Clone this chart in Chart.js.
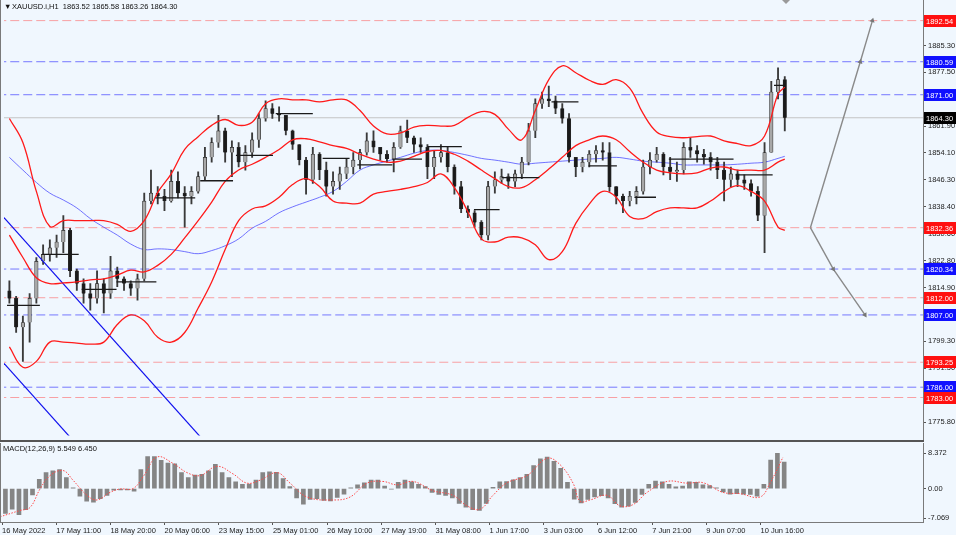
<!DOCTYPE html>
<html>
<head>
<meta charset="utf-8">
<script src="https://cdn.jsdelivr.net/npm/chart.js@4.4.1/dist/chart.umd.min.js"></script>
<style>
  html, body { margin: 0; padding: 0; background: #f0f7fe; }
  #wrap { position: relative; width: 956px; height: 535px; background: #f0f7fe; overflow: hidden; }
  #main { position: absolute; left: 0; top: 0; }
  #macd { position: absolute; left: 0; top: 443px; }
</style>
</head>
<body>
<div id="wrap">
  <canvas id="main" width="956" height="442"></canvas>
  <canvas id="macd" width="956" height="92"></canvas>
</div>
<script>
'use strict';

// ---- price data: 4-hour candles (open = previous close) ----
const firstOpen = 1814.0;
const hi = [1816.9,1812.4,1806.7,1813.2,1823.7,1827.4,1828.8,1830.2,1835.9,1832.2,
  1820.3,1817.5,1816.1,1819.8,1817.5,1824.0,1820.9,1818.1,1816.9,1818.9,
  1842.4,1849.1,1844.3,1843.5,1849.1,1848.6,1844.3,1844.3,1848.6,1855.7,
  1858.5,1865.0,1861.3,1857.6,1857.1,1856.2,1859.9,1865.5,1869.2,1868.4,
  1867.5,1865.0,1860.7,1856.5,1852.8,1855.7,1854.2,1851.4,1848.6,1850.0,
  1852.3,1854.2,1855.1,1859.9,1860.5,1855.7,1854.8,1857.1,1861.9,1863.6,
  1859.0,1858.5,1856.5,1854.8,1856.5,1855.7,1850.6,1845.8,1838.7,1837.3,
  1834.4,1845.8,1848.6,1849.4,1848.0,1849.1,1852.8,1862.7,1869.8,1871.8,
  1873.5,1870.6,1868.4,1865.5,1852.8,1852.8,1854.8,1856.2,1857.1,1857.1,
  1844.3,1842.1,1842.9,1844.3,1852.0,1854.2,1855.7,1854.2,1852.8,1851.4,
  1857.1,1858.5,1856.2,1855.1,1854.2,1852.8,1851.4,1850.0,1849.1,1847.7,
  1846.3,1844.3,1857.1,1874.9,1878.8,1876.3];
const lo = [1810.4,1801.9,1793.5,1799.1,1810.4,1821.7,1822.6,1823.7,1825.1,1818.1,
  1814.1,1810.4,1808.4,1810.4,1807.6,1811.8,1815.2,1814.1,1812.7,1811.3,
  1816.9,1839.3,1839.3,1837.3,1839.8,1841.0,1832.5,1839.3,1842.4,1846.3,
  1851.4,1855.7,1851.4,1847.2,1850.0,1849.1,1852.8,1855.7,1863.3,1864.1,
  1863.3,1859.3,1855.1,1850.6,1842.1,1845.2,1846.3,1841.5,1842.1,1843.5,
  1846.6,1848.0,1849.4,1853.4,1854.2,1852.0,1851.4,1848.6,1855.4,1857.1,
  1854.2,1854.2,1846.6,1846.6,1851.4,1848.6,1842.1,1836.7,1835.3,1832.5,
  1828.8,1828.8,1842.4,1845.2,1843.8,1844.3,1846.6,1850.6,1858.5,1867.0,
  1867.5,1865.5,1862.7,1851.4,1847.2,1848.6,1850.0,1851.4,1852.0,1842.9,
  1839.3,1836.7,1838.7,1839.3,1842.1,1848.0,1851.4,1847.7,1846.3,1845.8,
  1848.0,1852.8,1851.4,1850.8,1849.1,1846.6,1840.1,1844.3,1844.3,1843.5,
  1841.5,1834.4,1825.1,1854.2,1869.8,1860.5];
const cl = [1811.8,1803.4,1804.8,1811.8,1822.6,1824.6,1826.5,1828.2,1831.6,1819.8,
  1816.1,1813.2,1811.8,1816.1,1813.2,1819.8,1817.5,1816.1,1814.7,1817.5,
  1840.1,1842.4,1841.5,1840.1,1845.8,1842.4,1841.5,1842.9,1847.2,1852.8,
  1857.1,1860.5,1854.2,1855.7,1851.4,1854.2,1857.9,1864.1,1867.0,1865.5,
  1865.0,1860.5,1856.5,1852.0,1846.3,1853.7,1849.1,1844.3,1845.8,1848.0,
  1850.0,1852.0,1854.2,1857.6,1855.7,1853.7,1852.3,1855.7,1860.5,1858.5,
  1856.5,1855.7,1850.0,1852.8,1854.2,1850.0,1844.3,1837.8,1836.7,1833.9,
  1830.2,1844.3,1846.3,1847.2,1845.8,1848.0,1851.4,1860.5,1868.4,1869.8,
  1869.2,1867.0,1864.1,1852.8,1850.0,1851.4,1853.7,1854.8,1854.2,1844.3,
  1841.5,1840.1,1841.5,1842.9,1850.0,1852.0,1853.7,1850.0,1848.6,1849.1,
  1855.7,1854.8,1853.7,1852.8,1851.4,1849.1,1846.3,1848.0,1846.3,1845.2,
  1842.9,1835.9,1854.2,1871.8,1875.4,1864.3];

// ---- Bollinger bands and blue MA, read every second candle (last point = last candle) ----
const bbUpper = [1864.1,1857.1,1842.9,1832.7,1834.4,1834.4,1834.4,1834.4,1833.3,1831.3,
  1834.4,1842.6,1848.0,1855.1,1858.8,1862.1,1863.8,1862.1,1863.0,1868.4,
  1869.8,1869.5,1869.5,1868.9,1869.5,1869.5,1866.4,1861.9,1859.6,1859.9,
  1861.6,1862.1,1861.9,1862.1,1864.4,1866.1,1865.3,1861.0,1857.9,1866.4,
  1875.4,1879.4,1877.4,1875.2,1874.0,1875.4,1872.9,1865.5,1860.2,1858.8,
  1858.5,1858.8,1859.0,1857.6,1856.8,1856.2,1859.0,1871.2,1873.2];
const bbMiddle = [1830.2,1823.7,1817.8,1816.1,1816.3,1816.6,1817.2,1817.5,1818.6,1820.0,
  1819.5,1821.4,1824.6,1829.4,1834.4,1839.8,1845.8,1849.1,1850.8,1852.8,
  1855.1,1857.9,1858.2,1857.3,1856.2,1855.4,1853.7,1852.3,1851.4,1851.7,
  1853.1,1854.5,1854.8,1853.7,1851.7,1849.1,1846.6,1844.3,1844.0,1846.3,
  1849.4,1852.8,1856.2,1857.9,1859.0,1857.9,1854.5,1851.4,1849.1,1848.3,
  1848.0,1848.3,1849.7,1850.0,1849.1,1849.1,1849.1,1851.4,1852.3];
const bbLower = [1797.7,1791.8,1793.5,1799.1,1799.1,1798.8,1798.5,1799.1,1804.2,1807.0,
  1805.3,1800.5,1799.1,1801.9,1809.0,1816.6,1826.0,1834.4,1837.8,1838.7,
  1841.2,1844.9,1846.6,1844.3,1840.1,1839.5,1839.5,1842.1,1842.9,1843.5,
  1844.3,1845.5,1848.0,1844.0,1837.0,1829.1,1828.2,1829.6,1829.4,1827.4,
  1823.1,1825.4,1833.6,1839.2,1842.9,1841.2,1835.6,1835.0,1837.0,1838.1,
  1838.1,1838.1,1840.1,1842.9,1844.6,1842.9,1840.1,1832.5,1831.6];
const maBlue = [1852.8,1849.1,1845.5,1842.4,1840.4,1838.1,1835.0,1832.5,1830.2,1827.6,
  1826.0,1826.2,1826.0,1825.4,1824.8,1825.7,1827.1,1829.1,1832.2,1834.2,
  1836.7,1838.4,1839.8,1841.2,1842.9,1845.8,1849.1,1850.6,1851.7,1852.8,
  1854.0,1854.8,1854.8,1854.2,1853.4,1852.5,1852.0,1851.4,1850.8,1851.1,
  1851.4,1851.7,1852.0,1852.3,1852.5,1852.8,1852.3,1851.7,1851.4,1851.1,
  1850.6,1850.6,1850.6,1850.6,1850.8,1851.1,1851.4,1852.5,1853.1];

// ---- short black level segments (candle units) ----
const segFrom  = [0.15,5.32,11.22,16.39,22.15,28.8,34.1,40.0,46.96,52.1,57.3,62.5,69.4,73.5,80.9,86.4,93.2,98.3,108.2,113.9];
const segTo    = [5.02,10.78,16.39,22.3,28.06,33.67,39.6,45.5,50.95,57.3,61.7,67.6,73.2,79.1,84.9,90.6,96.4,107.9,113.7,115.5];
const segLevel = [1809.8,1824.6,1814.4,1816.6,1841.0,1846.0,1853.4,1865.5,1852.5,1850.6,1852.3,1855.9,1837.6,1846.9,1868.9,1850.3,1841.2,1852.3,1847.7,1873.7];

// ---- horizontal levels ----
const levels     = [1892.54,1880.59,1871.00,1832.36,1820.34,1812.00,1807.00,1793.25,1786.00,1783.00];
const levelKinds = ['r','b','b','r','b','r','b','r','b','r'];
const lastPrice  = 1864.30;

// ---- blue trend channel and projected arrows ----
const trendX = [[-0.3, 40], [-0.3, 14.47]];
const trendY = [[1835.3, 1747.1], [1792.9, 1760.6]];
const upArrowX = [119.3, 126.7, 128.5];
const upArrowY = [1832.36, 1880.59, 1892.54];
const dnArrowX = [119.3, 122.7, 127.4];
const dnArrowY = [1832.36, 1820.34, 1807.00];

// ---- MACD(12,26,9) ----
const macdHist = [-5.9,-4.9,-6.2,-5.0,-1.5,2.2,3.8,4.2,4.5,2.6,
  0.2,-1.8,-3.0,-3.2,-2.4,-1.6,-0.4,-0.3,-0.3,-0.6,
  4.5,7.6,7.6,6.7,6.1,5.9,3.8,2.6,3.2,3.4,
  4.2,5.8,3.8,2.6,1.6,1.0,1.1,2.0,3.8,4.0,
  3.9,2.4,0.5,-2.2,-3.7,-2.6,-2.4,-2.8,-2.9,-2.1,
  -1.3,0.2,0.9,1.4,2.0,2.0,0.6,-0.1,1.5,2.0,
  1.6,1.0,0.5,-0.9,-1.4,-1.6,-2.2,-3.5,-4.4,-5.0,
  -5.2,-3.5,0.3,1.6,1.7,2.1,2.6,3.4,5.5,7.1,
  7.5,6.5,4.8,1.5,-2.5,-3.4,-2.6,-2.0,-1.7,-2.2,
  -3.6,-4.4,-4.2,-3.3,-1.4,1.0,1.8,1.6,1.0,0.4,
  0.6,1.6,1.5,0.9,0.7,0.2,-0.8,-1.3,-1.2,-1.3,
  -1.4,-1.8,1.0,6.8,8.37,6.3];
const signalX = [-0.3,2.66,4.13,5.61,7.09,9.01,10.48,12.55,14.03,15.95,17.42,19.34,20.82,22.89,25.25,27.32,29.24,31.75,34.11,36.18,
  38.1,40.61,42.53,45.04,48.88,51.39,53.9,56.26,58.33,60.69,63.65,66.6,68.67,70.59,72.5,74.57,77.53,80.48,82.4,84.32,
  85.35,86.83,89.34,91.26,93.18,95.25,98.2,101.15,103.52,106.47,108.98,111.93,113.41,115.33];
const signalY = [-6.7,-5.2,-4.5,-0.1,3.1,4.3,2.0,-1.6,-2.7,-0.9,-0.1,0,2.8,7.5,6.0,3.8,3.1,5.3,3.5,1.3,
  2.0,3.8,1.3,-2.0,-2.7,-2.0,1.3,1.7,0.9,1.7,-0.5,-1.6,-4.1,-4.9,-1.6,1.4,3.1,7.2,5.7,1.3,
  -3.0,-2.7,-1.6,-4.1,-3.8,-0.9,1.7,1.3,1.4,-0.9,-1.2,-2.0,1.3,7.5];

// ---- axis labels ----
const priceTicks = [1775.80,1783.70,1791.50,1799.30,1807.10,1814.90,1822.80,1830.60,1838.40,1846.30,1854.10,1861.90,1869.70,1877.50,1885.30,1893.20];
const macdTicks  = [-7.069, 0, 8.372];
const macdTickText = ['-7.069', '0.00', '8.372'];
const timeLabels = ['16 May 2022','17 May 11:00','18 May 20:00','20 May 06:00','23 May 15:00','25 May 01:00','26 May 10:00',
  '27 May 19:00','31 May 08:00','1 Jun 17:00','3 Jun 03:00','6 Jun 12:00','7 Jun 21:00','9 Jun 07:00','10 Jun 16:00'];

// ------------------------------------------------------------------
const BG = '#f0f7fe';
const FONT = { family: "'Liberation Sans',sans-serif", size: 7.5 };
const FONT_CSS = "7.5px 'Liberation Sans',sans-serif";
const X_MIN = -0.3, X_MAX = 136;

const opens = cl.map((c, i) => i === 0 ? firstOpen : cl[i - 1]);
const wickData = hi.map((h, i) => ({ x: i + 0.5, y: [lo[i], h] }));
const bodyData = cl.map((c, i) => ({ x: i + 0.5, y: [Math.min(opens[i], c), Math.max(opens[i], c)] }));
const bodyColors = cl.map((c, i) => c >= opens[i] ? '#a8a8a8' : '#1a1a1a');

const bandIdx = bbUpper.map((_, k) => k === bbUpper.length - 1 ? 115 : k * 2);
const bandSeries = arr => arr.map((v, k) => ({ x: bandIdx[k] + 0.5, y: v }));

const segData = [];
segFrom.forEach((s, i) => {
  segData.push({ x: s, y: segLevel[i] }, { x: segTo[i], y: segLevel[i] }, { x: segTo[i], y: null });
});

const levelSets = levels.map((lv, i) => ({
  type: 'line',
  data: [{ x: X_MIN - 1, y: lv }, { x: X_MAX + 1, y: lv }],
  borderColor: levelKinds[i] === 'r' ? 'rgba(255,90,90,0.55)' : 'rgba(50,50,255,0.65)',
  borderWidth: 1, borderDash: [9, 4], pointRadius: 0, order: 20
}));

const lineSet = (data, color, width, extra) => Object.assign({
  type: 'line', data, borderColor: color, borderWidth: width, pointRadius: 0, tension: 0.4, fill: false
}, extra || {});

const arrowSet = (xs, ys, rot) => ({
  type: 'line',
  data: xs.map((x, i) => ({ x, y: ys[i] })),
  borderColor: '#8a8a8a', backgroundColor: '#777', borderWidth: 1.4,
  pointStyle: 'triangle', pointRadius: [0, 3, 3], pointRotation: [rot, rot, rot],
  pointBorderWidth: 0, tension: 0, order: 4, clip: false
});

function rightLabels(chart) {
  const { ctx, chartArea, scales } = chart;
  const y = scales.y;
  ctx.save();
  ctx.font = FONT_CSS;
  ctx.textBaseline = 'middle';
  const box = (val, bg) => {
    const py = Math.round(y.getPixelForValue(val));
    ctx.fillStyle = bg;
    ctx.fillRect(chartArea.right + 1, py - 6, chart.width - chartArea.right - 1, 12);
    ctx.fillStyle = '#ffffff';
    ctx.fillText(val.toFixed(2), chartArea.right + 3, py + 0.5);
  };
  levels.forEach((lv, i) => box(lv, levelKinds[i] === 'r' ? '#ff1010' : '#1010ff'));
  box(lastPrice, '#000000');
  ctx.restore();
}

const bgPlugin = {
  id: 'bg',
  beforeDraw(chart) {
    const c = chart.ctx;
    c.save(); c.fillStyle = BG; c.fillRect(0, 0, chart.width, chart.height); c.restore();
  }
};

const mainFrame = {
  id: 'mainFrame',
  afterDraw(chart) {
    const { ctx, chartArea } = chart;
    rightLabels(chart);
    ctx.save();
    ctx.strokeStyle = '#7a7a7a'; ctx.lineWidth = 1;
    ctx.beginPath();
    ctx.moveTo(0.5, 0); ctx.lineTo(0.5, chart.height);
    ctx.moveTo(chartArea.right + 0.5, 0); ctx.lineTo(chartArea.right + 0.5, chart.height);
    ctx.stroke();
    ctx.strokeStyle = '#555'; ctx.lineWidth = 2;
    ctx.beginPath(); ctx.moveTo(0, chart.height - 1); ctx.lineTo(chartArea.right + 1, chart.height - 1); ctx.stroke();
    // title
    ctx.fillStyle = '#111';
    ctx.font = FONT_CSS;
    ctx.textBaseline = 'middle';
    ctx.fillText('\u25BC', 4, 7);
    ctx.fillText('XAUUSD.i,H1  1863.52 1865.58 1863.26 1864.30', 12, 7);
    // shift marker
    ctx.fillStyle = '#9a9a9a';
    ctx.beginPath(); ctx.moveTo(782, 0); ctx.lineTo(790, 0); ctx.lineTo(786, 4); ctx.closePath(); ctx.fill();
    ctx.restore();
  }
};

const macdFrame = {
  id: 'macdFrame',
  afterDraw(chart) {
    const { ctx, chartArea } = chart;
    ctx.save();
    ctx.strokeStyle = '#7a7a7a'; ctx.lineWidth = 1;
    ctx.beginPath();
    ctx.moveTo(0.5, 0); ctx.lineTo(0.5, chartArea.bottom);
    ctx.moveTo(chartArea.right + 0.5, 0); ctx.lineTo(chartArea.right + 0.5, chartArea.bottom);
    ctx.moveTo(0, chartArea.bottom + 0.5); ctx.lineTo(chartArea.right + 1, chartArea.bottom + 0.5);
    ctx.stroke();
    ctx.fillStyle = '#111';
    ctx.font = FONT_CSS;
    ctx.textBaseline = 'middle';
    ctx.fillText('MACD(12,26,9) 5.549 6.450', 3, 6);
    ctx.restore();
  }
};

const yTickOpts = (vals, fmt) => ({
  afterFit: s => { s.width = 33; },
  afterBuildTicks: s => { s.ticks = vals.map(v => ({ value: v })); },
  ticks: { callback: fmt, font: FONT, color: '#222', padding: 2, autoSkip: false },
  grid: { drawOnChartArea: false, tickLength: 3, color: '#555' },
  border: { display: true, color: '#7a7a7a' }
});

new Chart(document.getElementById('main').getContext('2d'), {
  data: {
    datasets: [
      ...levelSets,
      lineSet([{ x: X_MIN - 1, y: lastPrice }, { x: X_MAX + 1, y: lastPrice }], '#c4c4c4', 1, { order: 19, tension: 0 }),
      lineSet(bandSeries(maBlue), 'rgba(70,70,255,0.75)', 1, { order: 7 }),
      { type: 'bar', data: wickData, backgroundColor: '#3a3a3a', barThickness: 1.2, grouped: false, order: 6 },
      { type: 'bar', data: bodyData, backgroundColor: bodyColors, borderColor: '#2a2a2a', borderWidth: 0.7,
        barThickness: 3.5, grouped: false, minBarLength: 1, order: 5 },
      lineSet(bandSeries(bbUpper), '#ff1a1a', 1.3, { order: 3 }),
      lineSet(bandSeries(bbMiddle), '#ff1a1a', 1.3, { order: 3 }),
      lineSet(bandSeries(bbLower), '#ff1a1a', 1.3, { order: 3 }),
      lineSet(segData, '#1a1a1a', 1.3, { order: 2, tension: 0, spanGaps: false }),
      lineSet(trendX[0].map((x, i) => ({ x, y: trendY[0][i] })), '#1010ee', 1.2, { order: 4, tension: 0 }),
      lineSet(trendX[1].map((x, i) => ({ x, y: trendY[1][i] })), '#1010ee', 1.2, { order: 4, tension: 0 }),
      arrowSet(upArrowX, upArrowY, 16),
      arrowSet(dnArrowX, dnArrowY, 148)
    ]
  },
  options: {
    responsive: false, animation: false, events: [],
    layout: { padding: { left: 0, right: 0, top: 0, bottom: 1 } },
    plugins: { legend: { display: false }, tooltip: { enabled: false } },
    scales: {
      x: { type: 'linear', min: X_MIN, max: X_MAX, offset: false, display: false },
      y: Object.assign({ type: 'linear', position: 'right', min: 1771.96, max: 1896.64 },
        yTickOpts(priceTicks, v => v.toFixed(2)))
    }
  },
  plugins: [bgPlugin, mainFrame]
});

new Chart(document.getElementById('macd').getContext('2d'), {
  data: {
    datasets: [
      { type: 'line', data: signalX.map((x, i) => ({ x, y: signalY[i] })), borderColor: '#ff4a4a',
        borderWidth: 1, borderDash: [1.5, 1.5], pointRadius: 0, tension: 0.4, order: 1 },
      { type: 'bar', data: macdHist.map((v, i) => ({ x: i + 0.5, y: v })), backgroundColor: '#858585',
        borderWidth: 0, barThickness: 4, grouped: false, order: 2 }
    ]
  },
  options: {
    responsive: false, animation: false, events: [],
    layout: { padding: 0 },
    plugins: { legend: { display: false }, tooltip: { enabled: false } },
    scales: {
      x: {
        type: 'linear', min: X_MIN, max: X_MAX, position: 'bottom', offset: false,
        afterFit: s => { s.height = 13; },
        afterBuildTicks: s => { s.ticks = timeLabels.map((_, k) => ({ value: k * 8 })); },
        ticks: { autoSkip: false, maxRotation: 0, align: 'start', padding: 1, font: FONT, color: '#222',
          callback: (v, i) => timeLabels[i] },
        grid: { drawOnChartArea: false, offset: false, tickLength: 3, color: '#555' },
        border: { display: true, color: '#7a7a7a' }
      },
      y: Object.assign({ type: 'linear', position: 'right', min: -7.94, max: 9.3 },
        yTickOpts(macdTicks, (v, i) => macdTickText[i]))
    }
  },
  plugins: [bgPlugin, macdFrame]
});
</script>
</body>
</html>
